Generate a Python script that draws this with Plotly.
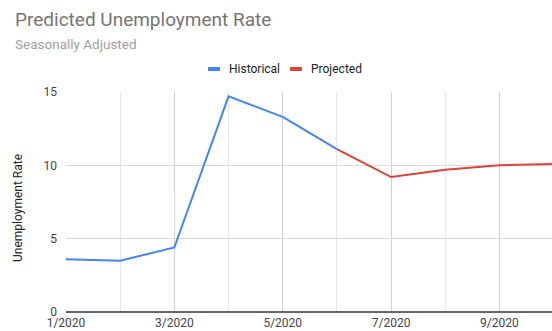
import plotly.graph_objects as go

months = ["1/2020", "2/2020", "3/2020", "4/2020", "5/2020", "6/2020",
          "7/2020", "8/2020", "9/2020", "10/2020"]
labeled_months = ["1/2020", "3/2020", "5/2020", "7/2020", "9/2020"]
historical_months = months[0:6]
historical_values = [3.6, 3.5, 4.4, 14.7, 13.3, 11.1]
projected_months = months[5:10]
projected_values = [11.1, 9.2, 9.7, 10.0, 10.1]
y_ticks = [0, 5, 10, 15]

BLUE = "#4285F4"
RED = "#DB4437"
FONT = "Roboto"

idx = {m: i for i, m in enumerate(months)}

fig = go.Figure()
fig.add_trace(go.Scatter(x=[idx[m] for m in historical_months], y=historical_values,
                         mode="lines", name="Historical",
                         line=dict(color=BLUE, width=2), showlegend=False))
fig.add_trace(go.Scatter(x=[idx[m] for m in projected_months], y=projected_values,
                         mode="lines", name="Projected",
                         line=dict(color=RED, width=2), showlegend=False))

W, H = 552, 331
L, R, T, B = 66, 0, 92, 19
pw, ph = W - L - R, H - T - B

def px2paper_x(px):
    return (px - L) / pw

def px2paper_y(py):
    return (H - B - py) / ph

# custom legend
legend_items = [("Historical", BLUE, 208), ("Projected", RED, 290)]
shapes = []
annotations = []
for name, color, x0 in legend_items:
    shapes.append(dict(type="line", xref="paper", yref="paper",
                       x0=px2paper_x(x0), x1=px2paper_x(x0 + 12),
                       y0=px2paper_y(69), y1=px2paper_y(69),
                       line=dict(color=color, width=4)))
    annotations.append(dict(text=name, xref="paper", yref="paper",
                            x=px2paper_x(x0 + 19), y=px2paper_y(69),
                            xanchor="left", yanchor="middle", showarrow=False,
                            font=dict(family=FONT, size=12, color="#222222")))

annotations.append(dict(text="Predicted Unemployment Rate", xref="paper", yref="paper",
                        x=px2paper_x(13), y=px2paper_y(19), xanchor="left", yanchor="middle",
                        showarrow=False, font=dict(family=FONT, size=19, color="#757575")))
annotations.append(dict(text="Seasonally Adjusted", xref="paper", yref="paper",
                        x=px2paper_x(13), y=px2paper_y(44), xanchor="left", yanchor="middle",
                        showarrow=False, font=dict(family=FONT, size=13.5, color="#9E9E9E")))
annotations.append(dict(text="Unemployment Rate", xref="paper", yref="paper",
                        x=px2paper_x(18), y=px2paper_y(208), xanchor="center", yanchor="middle",
                        textangle=-90, showarrow=False,
                        font=dict(family=FONT, size=12, color="#222222")))

fig.update_layout(
    width=W, height=H,
    margin=dict(l=L, r=R, t=T, b=B, pad=0),
    paper_bgcolor="white", plot_bgcolor="white",
    showlegend=False,
    shapes=shapes, annotations=annotations,
    font=dict(family=FONT, size=12, color="#444444"),
    xaxis=dict(range=[0, 8.97], tickmode="array",
               tickvals=[idx[m] for m in labeled_months], ticktext=labeled_months,
               showgrid=True, gridcolor="#D0D0D0", gridwidth=1,
               minor=dict(tickvals=[i for i, m in enumerate(months) if m not in labeled_months],
                          showgrid=True, gridcolor="#E6E6E6", gridwidth=1, ticks=""),
               zeroline=False, showline=False, ticks="", ticklabelstandoff=2,
               tickfont=dict(family=FONT, size=12, color="#444444"), fixedrange=True),
    yaxis=dict(range=[0, 15], tickmode="array", tickvals=y_ticks,
               showgrid=True, gridcolor="#D9D9D9", gridwidth=1,
               zeroline=True, zerolinecolor="#666666", zerolinewidth=2,
               showline=False, ticks="", ticklabelstandoff=8,
               tickfont=dict(family=FONT, size=12, color="#444444"), fixedrange=True),
)

fig.write_html("out.html")
